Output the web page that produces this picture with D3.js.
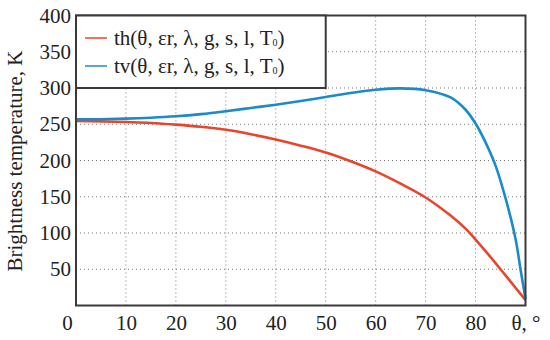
<!DOCTYPE html>
<html>
<head>
<meta charset="utf-8">
<script src="https://cdn.jsdelivr.net/npm/d3@7"></script>
<style>
  body { margin: 0; background: #fff; }
  svg text { font-family: 'Liberation Serif', 'Times New Roman', serif !important; fill: #222; }
</style>
</head>
<body>
<script>
var w = 550;
var h = 340;

// incidence angle, degrees
var theta = [0, 5, 10, 15, 20, 25, 30, 35, 40, 45, 50, 55, 60, 65, 70, 75, 78, 80, 82, 84, 86, 88, 89, 90];
// horizontal polarisation, K
var th = [254.5, 254, 253, 251.8, 249.5, 246.5, 242.3, 236.3, 229, 220.5, 211, 199, 185, 168, 149, 124, 106, 91, 75, 58.5, 41.5, 24.5, 16, 7.5];
// vertical polarisation, K
var tv = [256.8, 257, 257.7, 259, 261, 264, 268, 272.5, 277, 282, 287.6, 293, 297.5, 299.5, 297, 287, 270, 251, 225, 193, 148, 92, 50, 9];

var xTicks = [0, 10, 20, 30, 40, 50, 60, 70, 80, 90];
var xTickLabels = ['0', '10', '20', '30', '40', '50', '60', '70', '80', 'θ, °'];
var yTicks = [50, 100, 150, 200, 250, 300, 350, 400];

var seriesNames = ['th', 'tv'];
var seriesColors = ['#e8452c', '#1a8bc8'];

var serif = "'Liberation Serif', 'Times New Roman', serif";

var x = d3.scaleLinear().domain([0, 90]).range([76, 525.5]);
var y = d3.scaleLinear().domain([0, 400]).range([305.5, 15.5]);

var svg = d3.select('body')
   .append('svg')
   .attr('width', w)
   .attr('height', h);

// dotted grid
svg.append('g')
   .selectAll('line')
   .data(xTicks.slice(1, -1))
   .enter()
   .append('line')
   .attr('x1', function(d) { return x(d); })
   .attr('x2', function(d) { return x(d); })
   .attr('y1', y(0))
   .attr('y2', y(400))
   .attr('stroke', '#777')
   .attr('stroke-width', 1)
   .attr('stroke-dasharray', '1,3');

svg.append('g')
   .selectAll('line')
   .data(yTicks.slice(0, -1))
   .enter()
   .append('line')
   .attr('x1', x(0))
   .attr('x2', x(90))
   .attr('y1', function(d) { return y(d); })
   .attr('y2', function(d) { return y(d); })
   .attr('stroke', '#777')
   .attr('stroke-width', 1)
   .attr('stroke-dasharray', '1,3');

// curves
var line = d3.line()
   .x(function(d) { return x(d[0]); })
   .y(function(d) { return y(d[1]); })
   .curve(d3.curveCatmullRom.alpha(0.5));

[th, tv].forEach(function(vals, k) {
   svg.append('path')
      .datum(theta.map(function(t, i) { return [t, vals[i]]; }))
      .attr('d', line)
      .attr('fill', 'none')
      .attr('stroke', seriesColors[k])
      .attr('stroke-width', 2.6);
});

// frame
svg.append('rect')
   .attr('x', x(0))
   .attr('y', y(400))
   .attr('width', x(90) - x(0))
   .attr('height', y(0) - y(400))
   .attr('fill', 'none')
   .attr('stroke', '#3a3a3a')
   .attr('stroke-width', 2);

// axes (labels only, frame drawn above)
var xAxis = d3.axisBottom(x)
   .tickValues(xTicks)
   .tickSize(0)
   .tickPadding(10)
   .tickFormat(function(d, i) { return xTickLabels[i]; });

var gx = svg.append('g')
   .attr('transform', 'translate(0,' + y(0) + ')')
   .call(xAxis)
   .attr('font-family', serif)
   .attr('font-size', 21);
gx.select('.domain').remove();
gx.selectAll('text')
   .attr('fill', '#222')
   .attr('dx', function(d) { return d === 0 ? -9 : 0; });

var yAxis = d3.axisLeft(y)
   .tickValues(yTicks)
   .tickSize(0)
   .tickPadding(5);

var gy = svg.append('g')
   .attr('transform', 'translate(' + x(0) + ',0)')
   .call(yAxis)
   .attr('font-family', serif)
   .attr('font-size', 21);
gy.select('.domain').remove();
gy.selectAll('text')
   .attr('fill', '#222');

svg.append('text')
   .attr('transform', 'translate(22,161) rotate(-90)')
   .attr('text-anchor', 'middle')
   .attr('font-size', 21)
   .text('Brightness temperature, K');

// legend box spans 0-50 deg, 300-400 K
svg.append('rect')
   .attr('x', x(0))
   .attr('y', y(400))
   .attr('width', x(50) - x(0))
   .attr('height', y(300) - y(400))
   .attr('fill', '#fff')
   .attr('stroke', '#3a3a3a')
   .attr('stroke-width', 2);

var legend = svg.selectAll('.legend')
   .data(seriesNames)
   .enter()
   .append('g')
   .attr('class', 'legend')
   .attr('transform', function(d, i) { return 'translate(0,' + (38 + i * 28) + ')'; });

legend.append('line')
   .attr('x1', 85)
   .attr('x2', 107)
   .attr('stroke', function(d, i) { return seriesColors[i]; })
   .attr('stroke-width', 1.5);

var lt = legend.append('text')
   .attr('x', 114)
   .attr('y', 7)
   .attr('font-size', 21);
lt.append('tspan')
   .text(function(d) { return d + '(θ, εr, λ, g, s, l, T'; });
lt.append('tspan')
   .attr('font-size', 10)
   .attr('dy', 1)
   .text('0');
lt.append('tspan')
   .attr('dy', -1)
   .text(')');
</script>
</body>
</html>
